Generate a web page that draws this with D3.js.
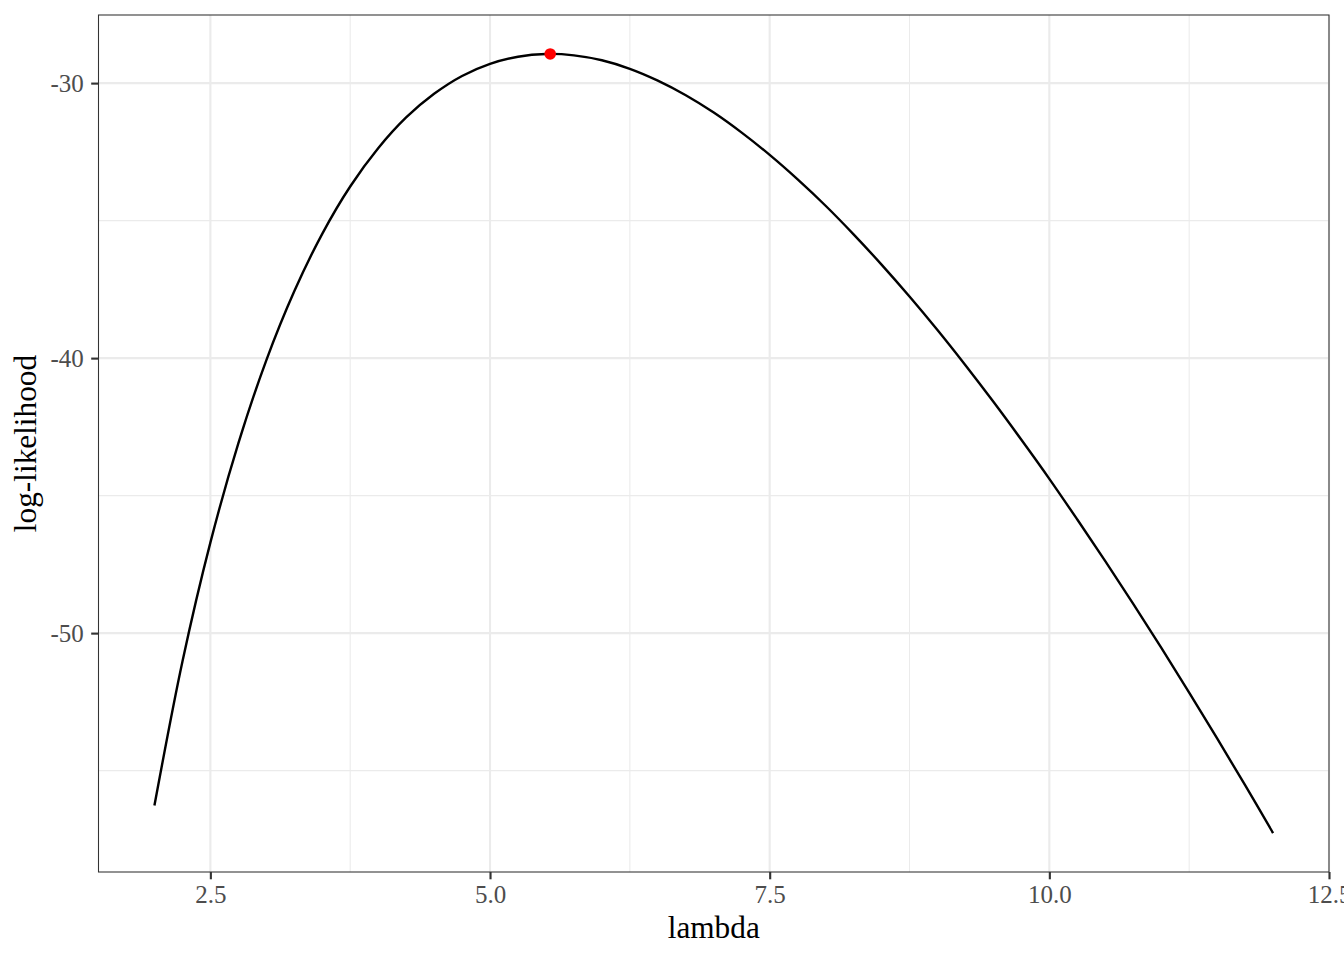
<!DOCTYPE html>
<html>
<head>
<meta charset="utf-8">
<script src="https://cdn.jsdelivr.net/npm/d3@7"></script>
<style>
  html, body { margin: 0; padding: 0; background: #fff; }
  svg { display: block; }
</style>
</head>
<body>
<div id="chart"></div>
<script>
// Data
const lambdaValues = [2, 2.25, 2.5, 2.75, 3, 3.25, 3.5, 3.75, 4, 4.25, 4.5, 4.75, 5, 5.25, 5.5, 5.75, 6, 6.25, 6.5, 6.75, 7, 7.25, 7.5, 7.75, 8, 8.25, 8.5, 8.75, 9, 9.25, 9.5, 9.75, 10, 10.25, 10.5, 10.75, 11, 11.25, 11.5, 11.75, 12];
const logLikValues = [-56.27, -51.04, -46.71, -43.10, -40.08, -37.57, -35.48, -33.76, -32.37, -31.25, -30.39, -29.74, -29.30, -29.04, -28.94, -28.99, -29.17, -29.48, -29.91, -30.44, -31.07, -31.80, -32.61, -33.50, -34.46, -35.50, -36.60, -37.76, -38.98, -40.26, -41.59, -42.97, -44.39, -45.87, -47.38, -48.94, -50.53, -52.16, -53.83, -55.53, -57.27];
const maxPoint = { lambda: 5.538, logLik: -28.94 };
const xTicks = [2.5, 5.0, 7.5, 10.0, 12.5];
const xTickLabels = ["2.5", "5.0", "7.5", "10.0", "12.5"];
const xMinor = [3.75, 6.25, 8.75, 11.25];
const yTicks = [-30, -40, -50];
const yTickLabels = ["-30", "-40", "-50"];
const yMinor = [-35, -45, -55];
const xTitle = "lambda";
const yTitle = "log-likelihood";

const W = 1344, H = 960;
const panel = { left: 98.5, right: 1329, top: 15, bottom: 872 };

const svg = d3.select("#chart").append("svg")
  .attr("width", W).attr("height", H)
  .style("font-family", "'Liberation Serif', 'Times New Roman', serif");

const xExt = d3.extent(lambdaValues);
const yExt = d3.extent(logLikValues);
const xPad = (xExt[1] - xExt[0]) * 0.05;
const yPad = (yExt[1] - yExt[0]) * 0.05;
const x = d3.scaleLinear().domain([xExt[0] - xPad, xExt[1] + xPad]).range([panel.left, panel.right]);
const y = d3.scaleLinear().domain([yExt[0] - yPad, yExt[1] + yPad]).range([panel.bottom, panel.top]);

svg.append("rect").attr("width", W).attr("height", H).attr("fill", "#fff");

const grid = svg.append("g");
grid.selectAll(".xminor").data(xMinor).join("line")
  .attr("x1", d => x(d)).attr("x2", d => x(d))
  .attr("y1", panel.top).attr("y2", panel.bottom)
  .attr("stroke", "#EBEBEB").attr("stroke-width", 1.07);
grid.selectAll(".yminor").data(yMinor).join("line")
  .attr("x1", panel.left).attr("x2", panel.right)
  .attr("y1", d => y(d)).attr("y2", d => y(d))
  .attr("stroke", "#EBEBEB").attr("stroke-width", 1.07);
grid.selectAll(".xmajor").data(xTicks).join("line")
  .attr("x1", d => x(d)).attr("x2", d => x(d))
  .attr("y1", panel.top).attr("y2", panel.bottom)
  .attr("stroke", "#EBEBEB").attr("stroke-width", 2.13);
grid.selectAll(".ymajor").data(yTicks).join("line")
  .attr("x1", panel.left).attr("x2", panel.right)
  .attr("y1", d => y(d)).attr("y2", d => y(d))
  .attr("stroke", "#EBEBEB").attr("stroke-width", 2.13);

const pts = lambdaValues.map((l, i) => [l, logLikValues[i]]);
const line = d3.line().x(d => x(d[0])).y(d => y(d[1])).curve(d3.curveCatmullRom.alpha(0.5));
svg.append("path").attr("d", line(pts))
  .attr("fill", "none").attr("stroke", "#000").attr("stroke-width", 2.4)
  .attr("stroke-linejoin", "round");

svg.append("circle")
  .attr("cx", x(maxPoint.lambda)).attr("cy", y(maxPoint.logLik))
  .attr("r", 5.8).attr("fill", "#FF0000");

// Panel border
svg.append("rect")
  .attr("x", panel.left).attr("y", panel.top)
  .attr("width", panel.right - panel.left).attr("height", panel.bottom - panel.top)
  .attr("fill", "none").attr("stroke", "#333333").attr("stroke-width", 1.07);

// Axes
const xAxis = d3.axisBottom(x).tickValues(xTicks)
  .tickFormat((d, i) => xTickLabels[i]).tickSize(7.3).tickPadding(6.2);
const gx = svg.append("g").attr("transform", `translate(0,${panel.bottom})`).call(xAxis);
gx.select(".domain").remove();
gx.selectAll(".tick line").attr("stroke", "#333333").attr("stroke-width", 2.13);
gx.selectAll(".tick text").attr("fill", "#4D4D4D").style("font-size", "25px")
  .style("font-family", "'Liberation Serif', serif");

const yAxis = d3.axisLeft(y).tickValues(yTicks)
  .tickFormat((d, i) => yTickLabels[i]).tickSize(7.3).tickPadding(7.5);
const gy = svg.append("g").attr("transform", `translate(${panel.left},0)`).call(yAxis);
gy.select(".domain").remove();
gy.selectAll(".tick line").attr("stroke", "#333333").attr("stroke-width", 2.13);
gy.selectAll(".tick text").attr("fill", "#4D4D4D").style("font-size", "25px")
  .style("font-family", "'Liberation Serif', serif");

svg.append("text")
  .attr("x", (panel.left + panel.right) / 2).attr("y", 937.5)
  .attr("text-anchor", "middle").attr("fill", "#000")
  .style("font-size", "31.3px").text(xTitle);

svg.append("text")
  .attr("transform", `translate(35.5,${(panel.top + panel.bottom) / 2}) rotate(-90)`)
  .attr("text-anchor", "middle").attr("fill", "#000")
  .style("font-size", "31.3px").text(yTitle);
</script>
</body>
</html>
